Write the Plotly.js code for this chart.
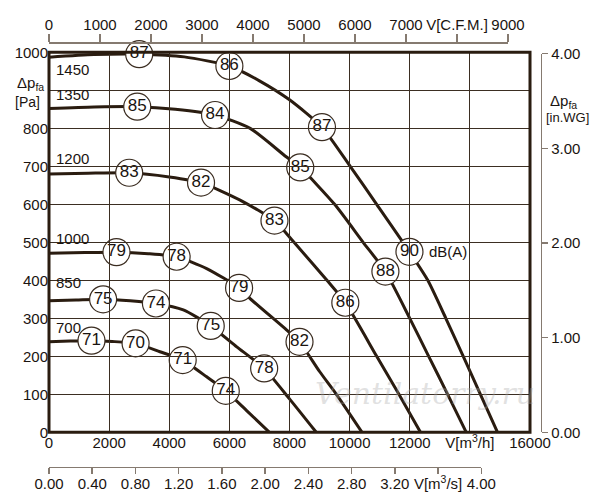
<!DOCTYPE html>
<html>
<head>
<meta charset="utf-8">
<script src="https://cdn.plot.ly/plotly-3.0.1.min.js"></script>
<style>
  html, body { margin: 0; padding: 0; background: #fff; }
  #chart { width: 600px; height: 500px; }
</style>
</head>
<body>
<div id="chart"></div>
<script>
// Fan curves, airflow V [m3/h] against static pressure dp_fa [Pa], one curve per speed (rpm)
const speeds = ['1450', '1350', '1200', '1000', '850', '700'];

const q1450 = [0, 1500, 3000, 4500, 6000, 7000, 8000, 9080, 10020, 10900, 11990, 12600, 13200, 13780, 14350, 14920];
const p1450 = [987, 994, 995, 988, 964, 925, 875, 803, 700, 600, 475, 400, 300, 200, 100, 0];
const q1350 = [0, 1500, 2935, 4200, 5523, 6690, 7890, 8357, 9500, 10450, 11190, 12000, 12630, 13260, 13880];
const p1350 = [852, 856, 857, 850, 835, 800, 725, 697, 600, 500, 423, 300, 200, 100, 0];
const q1200 = [0, 1300, 2667, 4000, 5057, 6357, 7500, 8150, 9245, 9857, 10900, 11640, 12357];
const p1200 = [680, 682, 683, 672, 657, 611, 557, 500, 400, 341, 200, 100, 0];
const q1000 = [0, 1200, 2245, 3300, 4245, 5245, 6323, 6690, 7967, 8333, 9000, 9560, 10413];
const p1000 = [471, 473, 474, 470, 462, 431, 380, 352, 265, 238, 160, 100, 0];
const q850 = [0, 900, 1800, 2700, 3557, 4467, 5380, 6245, 7157, 8000, 8890];
const p850 = [346, 348, 350, 346, 339, 322, 280, 225, 168, 88, 0];
const q700 = [0, 700, 1413, 2100, 2880, 3690, 4447, 5245, 5880, 6600, 7333];
const p700 = [238, 240, 241, 239, 234, 212, 190, 146, 109, 55, 0];

// sound level marks dB(A) sitting on each curve
const dbQ1450 = [3000, 6000, 9080, 11990];
const dbP1450 = [995, 964, 803, 475];
const db1450 = [87, 86, 87, 90];
const dbQ1350 = [2935, 5523, 8357, 11190];
const dbP1350 = [857, 835, 697, 423];
const db1350 = [85, 84, 85, 88];
const dbQ1200 = [2667, 5057, 7500, 9857];
const dbP1200 = [683, 657, 557, 341];
const db1200 = [83, 82, 83, 86];
const dbQ1000 = [2245, 4245, 6323, 8333];
const dbP1000 = [474, 462, 380, 238];
const db1000 = [79, 78, 79, 82];
const dbQ850 = [1800, 3557, 5380, 7157];
const dbP850 = [350, 339, 280, 168];
const db850 = [75, 74, 75, 78];
const dbQ700 = [1413, 2880, 4447, 5880];
const dbP700 = [241, 234, 190, 109];
const db700 = [71, 70, 71, 74];

// axis ticks
const flowTicks = [0, 2000, 4000, 6000, 8000, 10000, 12000, 14000, 16000];
const flowText = ['0', '2000', '4000', '6000', '8000', '10000', '12000', 'V[m<sup>3</sup>/h]', '16000'];
const paTicks = [0, 100, 200, 300, 400, 500, 600, 700, 800, 900, 1000];
const paText = ['0', '100', '200', '300', '400', '500', '600', '700', '800', '', '1000'];
const cfmTicks = [0, 1000, 2000, 3000, 4000, 5000, 6000, 7000, 8000, 9000];
const cfmText = ['0', '1000', '2000', '3000', '4000', '5000', '6000', '7000', 'V[C.F.M.]', '9000'];
const m3sTicks = [0, 0.4, 0.8, 1.2, 1.6, 2.0, 2.4, 2.8, 3.2, 3.6, 4.0];
const m3sText = ['0.00', '0.40', '0.80', '1.20', '1.60', '2.00', '2.40', '2.80', '3.20', 'V[m<sup>3</sup>/s]', '4.00'];
const wgTicks = [0, 1, 2, 3, 4];

const curves = {
    '1450': { q: q1450, p: p1450, dq: dbQ1450, dp: dbP1450, db: db1450 },
    '1350': { q: q1350, p: p1350, dq: dbQ1350, dp: dbP1350, db: db1350 },
    '1200': { q: q1200, p: p1200, dq: dbQ1200, dp: dbP1200, db: db1200 },
    '1000': { q: q1000, p: p1000, dq: dbQ1000, dp: dbP1000, db: db1000 },
    '850': { q: q850, p: p850, dq: dbQ850, dp: dbP850, db: db850 },
    '700': { q: q700, p: p700, dq: dbQ700, dp: dbP700, db: db700 },
};

const ink = '#2a1c10';
const txt = '#1a1410';
const grey = '#857a70';
const font = 'Liberation Sans, Arial, sans-serif';

const traces = [];
speeds.forEach(s => {
    traces.push({
        x: curves[s].q, y: curves[s].p,
        mode: 'lines', type: 'scatter',
        line: { color: ink, width: 3, shape: 'spline', smoothing: 0.6 },
        hoverinfo: 'skip', showlegend: false,
    });
});
speeds.forEach(s => {
    traces.push({
        x: curves[s].dq, y: curves[s].dp, text: curves[s].db.map(String),
        mode: 'markers+text', type: 'scatter',
        marker: { size: 27, color: '#fff', line: { color: '#3a2c20', width: 1.2 } },
        textposition: 'middle center',
        textfont: { family: font, size: 17, color: txt },
        hoverinfo: 'skip', showlegend: false, cliponaxis: false,
    });
});
// empty traces so the extra unit axes get drawn
['x2', 'x3', 'x4', 'x5'].forEach(ax => {
    traces.push({ x: [], y: [], xaxis: ax, yaxis: 'y', hoverinfo: 'skip', showlegend: false });
});
traces.push({ x: [], y: [], xaxis: 'x', yaxis: 'y2', hoverinfo: 'skip', showlegend: false });

// speed labels sit just above the start of each curve (1450 below)
const labelShift = { '1450': -31, '1350': 36, '1200': 41, '1000': 38, '850': 48, '700': 38 };
const annotations = speeds.map(s => ({
    x: 160, y: curves[s].p[0] + labelShift[s], xref: 'x', yref: 'y',
    text: s, showarrow: false, xanchor: 'left', yanchor: 'middle',
    font: { family: font, size: 15, color: txt },
}));
const note = (x, y, text, size) => ({
    x: x, y: y, xref: 'paper', yref: 'paper', text: text, showarrow: false,
    xanchor: 'center', yanchor: 'middle', font: { family: font, size: size, color: txt },
});
annotations.push(
    { x: 12560, y: 475, xref: 'x', yref: 'y', text: 'dB(A)', showarrow: false,
      xanchor: 'left', yanchor: 'middle', font: { family: font, size: 15, color: txt } },
    note(-0.036, 0.882, 'Δp<sub>fa</sub>', 15),
    note(-0.042, 0.8407, '[Pa]', 14),
    note(1.027, 0.842, 'Δp<sub>fa</sub>', 15),
    note(1.035, 0.8055, '[in.WG]', 13),
    { x: 12520, y: 103, xref: 'x', yref: 'y', text: 'Ventilatorry.ru', showarrow: false,
      xanchor: 'center', yanchor: 'middle',
      font: { family: 'DejaVu Serif, serif', size: 30, color: 'rgba(170,170,170,0.35)', style: 'italic' } }
);

const axisFont = { family: font, size: 15, color: txt };
// secondary unit scales: one axis draws line + ticks, a twin a few px away carries the labels
const lineAxis = (domain, range, pos, side, vals, len) => ({
    domain: domain, range: range, anchor: 'free', position: pos, side: side,
    tickvals: vals, showticklabels: false,
    ticks: 'outside', ticklen: len, tickcolor: grey, tickwidth: 1.5,
    showline: true, linecolor: grey, linewidth: 1.5,
    showgrid: false, zeroline: false,
});
const labelAxis = (domain, range, pos, side, vals, text) => ({
    domain: domain, range: range, anchor: 'free', position: pos, side: side,
    tickvals: vals, ticktext: text, tickfont: axisFont, ticks: '',
    showline: false, showgrid: false, zeroline: false,
});

const layout = {
    width: 600, height: 500,
    margin: { l: 49, r: 50, t: 30, b: 20 },
    paper_bgcolor: '#fff',
    plot_bgcolor: 'rgba(0,0,0,0)',
    showlegend: false,
    xaxis: {
        domain: [0, 0.9601], range: [0, 16000], anchor: 'y',
        tickvals: flowTicks, ticktext: flowText, tickfont: axisFont,
        showgrid: true, gridcolor: '#3b2e22', gridwidth: 1,
        zeroline: false, showline: false, ticks: '',
    },
    yaxis: {
        domain: [0.106, 0.9504], range: [0, 1000], anchor: 'x',
        tickvals: paTicks, ticktext: paText, tickfont: axisFont,
        showgrid: true, gridcolor: '#3b2e22', gridwidth: 1,
        zeroline: false, showline: false, ticks: '',
    },
    xaxis2: lineAxis([0, 0.9162], [0, 9000], 0.9733, 'top', cfmTicks, 8),
    xaxis4: labelAxis([0, 0.9162], [0, 9000], 0.9933, 'top', cfmTicks, cfmText),
    xaxis3: lineAxis([0, 0.8629], [0, 4], 0.0296, 'bottom', m3sTicks, 6),
    xaxis5: labelAxis([0, 0.8629], [0, 4], 0.0156, 'bottom', m3sTicks, m3sText),
    yaxis2: {
        domain: [0.106, 0.9473], range: [0, 4], anchor: 'free', position: 0.9814, side: 'right',
        tickvals: wgTicks, tickformat: '.2f', tickfont: axisFont,
        ticks: 'outside', ticklen: 6, tickcolor: grey, tickwidth: 1.5,
        showline: true, linecolor: grey, linewidth: 1.5,
        showgrid: false, zeroline: false,
    },
    shapes: [{
        type: 'rect', xref: 'x domain', yref: 'y domain', x0: 0, x1: 1, y0: 0, y1: 1,
        line: { color: ink, width: 3 }, layer: 'above',
    }],
    annotations: annotations,
};

Plotly.newPlot('chart', traces, layout, { staticPlot: true });
</script>
</body>
</html>
